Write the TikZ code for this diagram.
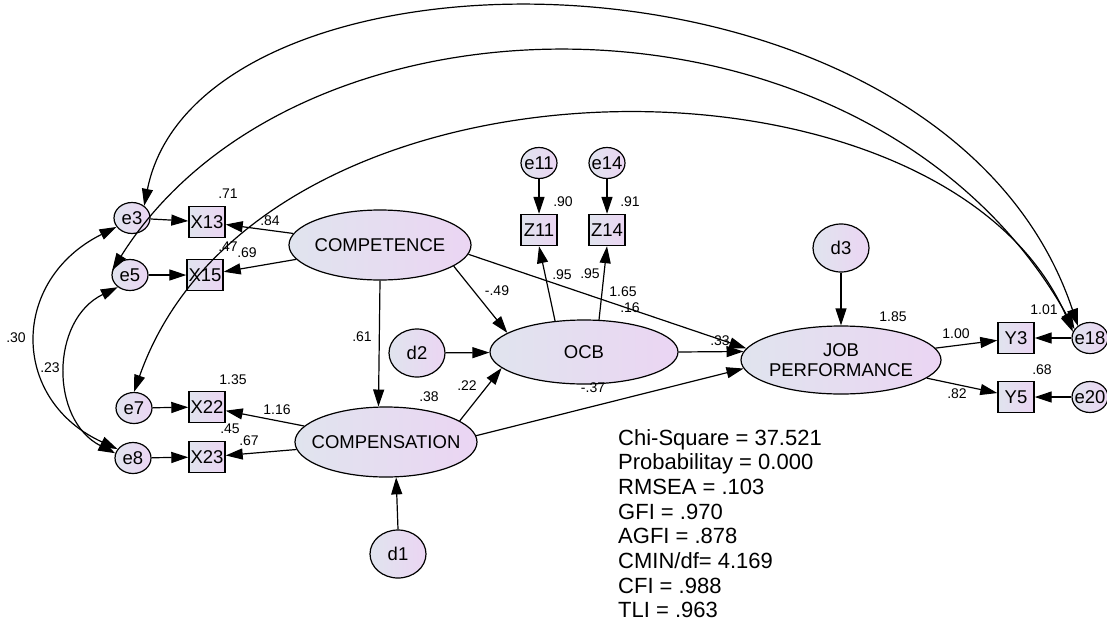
\documentclass[tikz,border=0pt]{standalone}
\usepackage{fontspec}
\setmainfont{Liberation Sans}
\usetikzlibrary{arrows.meta,shapes.geometric}
\definecolor{fillL}{RGB}{224,228,238}
\definecolor{fillR}{RGB}{235,213,243}
\newcommand{\mkzw}[1]{\makebox[0pt]{#1}}
\tikzset{
  varfont/.style={font=\fontsize{18.5}{20}\selectfont},
  lat/.style={ellipse, draw, line width=1.2pt, left color=fillL, right color=fillR, inner sep=0pt, varfont},
  obs/.style={rectangle, draw, line width=1.4pt, left color=fillL, right color=fillR, inner sep=0pt, minimum width=36pt, minimum height=31pt, varfont},
  errv/.style={lat, minimum width=36pt, minimum height=31pt},
  dist/.style={lat, minimum width=56pt, minimum height=48pt},
  bigv/.style={lat, minimum width=182pt, minimum height=70pt},
  arr/.style={-{Triangle[length=17pt,width=11pt]}, line width=1.2pt},
  cov/.style={{Triangle[length=17pt,width=11pt]}-{Triangle[length=17pt,width=11pt]}, line width=1.2pt},
  lab/.style={inner sep=0pt, font=\fontsize{14}{16}\selectfont},
  stat/.style={inner sep=0pt, anchor=base west, font=\fontsize{22}{24}\selectfont},
}
\begin{document}
\begin{tikzpicture}[x=1pt,y=-1pt]
\fill[white] (0,0) rectangle (1107,621);
\useasboundingbox (0,0) rectangle (1107,621);
% variables
\node[errv] (e3) at (132,218) {\mkzw{e3}};
\node[errv] (e5) at (130,275) {\mkzw{e5}};
\node[errv] (e7) at (134,408) {\mkzw{e7}};
\node[errv] (e8) at (133,458) {\mkzw{e8}};
\node[obs] (X13) at (207,222) {X13};
\node[obs] (X15) at (205,275) {X15};
\node[obs] (X22) at (207,407) {X22};
\node[obs] (X23) at (207,457) {X23};
\node[bigv] (CMT) at (380,245) {\mkzw{COMPETENCE}};
\node[bigv] (CMP) at (386,442) {\mkzw{COMPENSATION}};
\node[bigv, minimum width=188pt, minimum height=64pt] (OCB) at (584,352) {\mkzw{OCB}};
\node[bigv, minimum width=200pt, minimum height=68pt, align=center] (JOB) at (841,360) {\mkzw{JOB}\\\mkzw{PERFORMANCE}};
\node[dist] (d2) at (417,353) {\mkzw{d2}};
\node[dist] (d1) at (398,554) {\mkzw{d1}};
\node[dist] (d3) at (841,248) {\mkzw{d3}};
\node[errv] (e11) at (539,163) {\mkzw{e11}};
\node[errv] (e14) at (607,163) {\mkzw{e14}};
\node[obs] (Z11) at (539,230) {Z11};
\node[obs] (Z14) at (607,230) {Z14};
\node[obs] (Y3) at (1016,338) {Y3};
\node[obs] (Y5) at (1016,397) {Y5};
\node[errv] (e18) at (1090,338) {\mkzw{e18}};
\node[errv] (e20) at (1090,397) {\mkzw{e20}};
% measurement paths
\draw[arr] (e3) -- (X13);
\draw[arr] (e5) -- (X15);
\draw[arr] (e7) -- (X22);
\draw[arr] (e8) -- (X23);
\draw[arr] (CMT) -- (X13);
\draw[arr] (CMT) -- (X15);
\draw[arr] (CMP) -- (X22);
\draw[arr] (CMP) -- (X23);
\draw[arr] (e11) -- (Z11);
\draw[arr] (e14) -- (Z14);
\draw[arr] (OCB.133) -- (Z11.south);
\draw[arr] (OCB.65) -- (Z14.south);
\draw[arr] (JOB) -- (Y3);
\draw[arr] (JOB) -- (Y5);
\draw[arr] (e18) -- (Y3);
\draw[arr] (e20) -- (Y5);
% structural paths
\draw[arr] (CMT.south) -- (CMP.102);
\draw[arr] (CMT.-16) -- (OCB.166);
\draw[arr] (CMT.-6) -- (JOB.173);
\draw[arr] (CMP.16) -- (OCB.191);
\draw[arr] (CMP.4) -- (JOB.185);
\draw[arr] (OCB.east) -- (JOB.175);
\draw[arr] (d2) -- (OCB);
\draw[arr] (d1.north) -- (CMP.-74);
\draw[arr] (d3.south) -- (JOB.north);
% covariances
\draw[cov] (e3.45) .. controls (200,-75) and (944,-75) .. (e18.135);
\draw[cov] (e5.165) .. controls (300,-29) and (873,-29) .. (e18.150);
\draw[cov] (e7.north) .. controls (260,34) and (945,34) .. (e18.160);
\draw[cov] (e3.210) .. controls (10,280) and (10,400) .. (e8.150);
\draw[cov] (e5.225) .. controls (50,320) and (50,420) .. (e8.165);
% labels
\node[lab] (l1) at (228,194) {.71};
\node[lab] (l2) at (270,221) {.84};
\node[lab] (l3) at (228,247) {.47};
\node[lab] (l4) at (247,253) {.69};
\node[lab] (l5) at (16,338) {.30};
\node[lab] (l6) at (50,368) {.23};
\node[lab] (l7) at (233,380) {1.35};
\node[lab] (l8) at (277,410) {1.16};
\node[lab] (l9) at (230,429) {.45};
\node[lab] (l10) at (249,441) {.67};
\node[lab] (l11) at (362,337) {.61};
\node[lab] (l12) at (429,397) {.38};
\node[lab] (l13) at (467,386) {.22};
\node[lab] (l14) at (497,291) {-.49};
\node[lab] (l15) at (563,202) {.90};
\node[lab] (l16) at (630,202) {.91};
\node[lab] (l17) at (562,275) {.95};
\node[lab] (l18) at (590,274) {.95};
\node[lab] (l19) at (623,292) {1.65};
\node[lab] (l20) at (630,308) {.16};
\node[lab] (l21) at (720,341) {.33};
\node[lab] (l22) at (593,388) {-.37};
\node[lab] (l23) at (893,317) {1.85};
\node[lab] (l24) at (956,334) {1.00};
\node[lab] (l25) at (1044,310) {1.01};
\node[lab] (l26) at (957,394) {.82};
\node[lab] (l27) at (1042,370) {.68};
% fit statistics
\node[stat] (s1) at (618,445) {Chi-Square = 37.521};
\node[stat] (s2) at (618,469.7) {Probabilitay = 0.000};
\node[stat] (s3) at (618,494.4) {RMSEA = .103};
\node[stat] (s4) at (618,519.1) {GFI = .970};
\node[stat] (s5) at (618,543.8) {AGFI = .878};
\node[stat] (s6) at (618,568.5) {CMIN/df= 4.169};
\node[stat] (s7) at (618,593.2) {CFI = .988};
\node[stat] (s8) at (618,617.9) {TLI = .963};
\end{tikzpicture}
\end{document}
